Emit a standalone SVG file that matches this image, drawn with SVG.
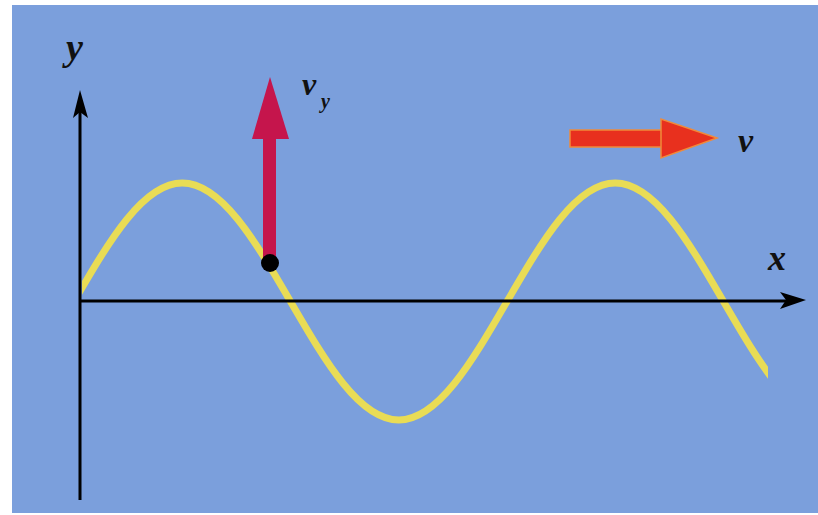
<svg xmlns="http://www.w3.org/2000/svg" width="818" height="515" viewBox="0 0 818 515">
<defs>
<style>
.lbl{font-family:"Liberation Serif","DejaVu Serif",serif;font-style:italic;font-weight:bold;fill:#111}
.axis{stroke:#000;stroke-width:3;fill:none}
</style>
<clipPath id="wc"><rect x="82" y="0" width="686" height="515"/></clipPath>
</defs>
<rect x="0" y="0" width="818" height="515" fill="#ffffff"/>
<rect x="12" y="5" width="806" height="508" fill="#7b9fdc"/>
<g id="wave" clip-path="url(#wc)">
<path d="M74,301.5 C109.30,240.79 143.07,183 182.25,183 C221.43,183 255.20,240.79 290.5,301.5 C325.80,362.21 359.57,420 398.75,420 C437.93,420 471.70,362.21 507,301.5 C542.30,240.79 576.07,183 615.25,183 C654.43,183 688.20,240.79 723.5,301.5 C758.80,362.21 792.57,420 831.75,420" fill="none" stroke="#e9dc55" stroke-width="7"/>
</g>
<g id="axes">
<line class="axis" x1="80" y1="500" x2="80" y2="110"/>
<polygon points="80,90 73,118 80,112 88,118" fill="#000"/>
<line class="axis" x1="80" y1="301" x2="790" y2="301"/>
<polygon points="806,300 780,292 786,300 780,309" fill="#000"/>
</g>
<g id="vy-arrow">
<rect x="263" y="136" width="13" height="126" fill="#c5154c"/>
<polygon points="270,77 252,139 289,139" fill="#c5154c"/>
</g>
<g id="point"><circle cx="270" cy="263" r="9" fill="#000"/></g>
<g id="v-arrow">
<rect x="570" y="130" width="95" height="17" fill="#e8301e" stroke="#f08a3a" stroke-width="1.5"/>
<polygon points="717,138 661,119 661,158" fill="#e8301e" stroke="#f08a3a" stroke-width="1.5"/>
</g>
<g id="labels">
<text class="lbl" x="66" y="60" font-size="38">y</text>
<text class="lbl" x="768" y="270" font-size="36">x</text>
<text class="lbl" x="738" y="152" font-size="34">v</text>
<text class="lbl" x="302" y="95" font-size="32">v</text>
<text class="lbl" x="321" y="108" font-size="20">y</text>
</g>
</svg>
